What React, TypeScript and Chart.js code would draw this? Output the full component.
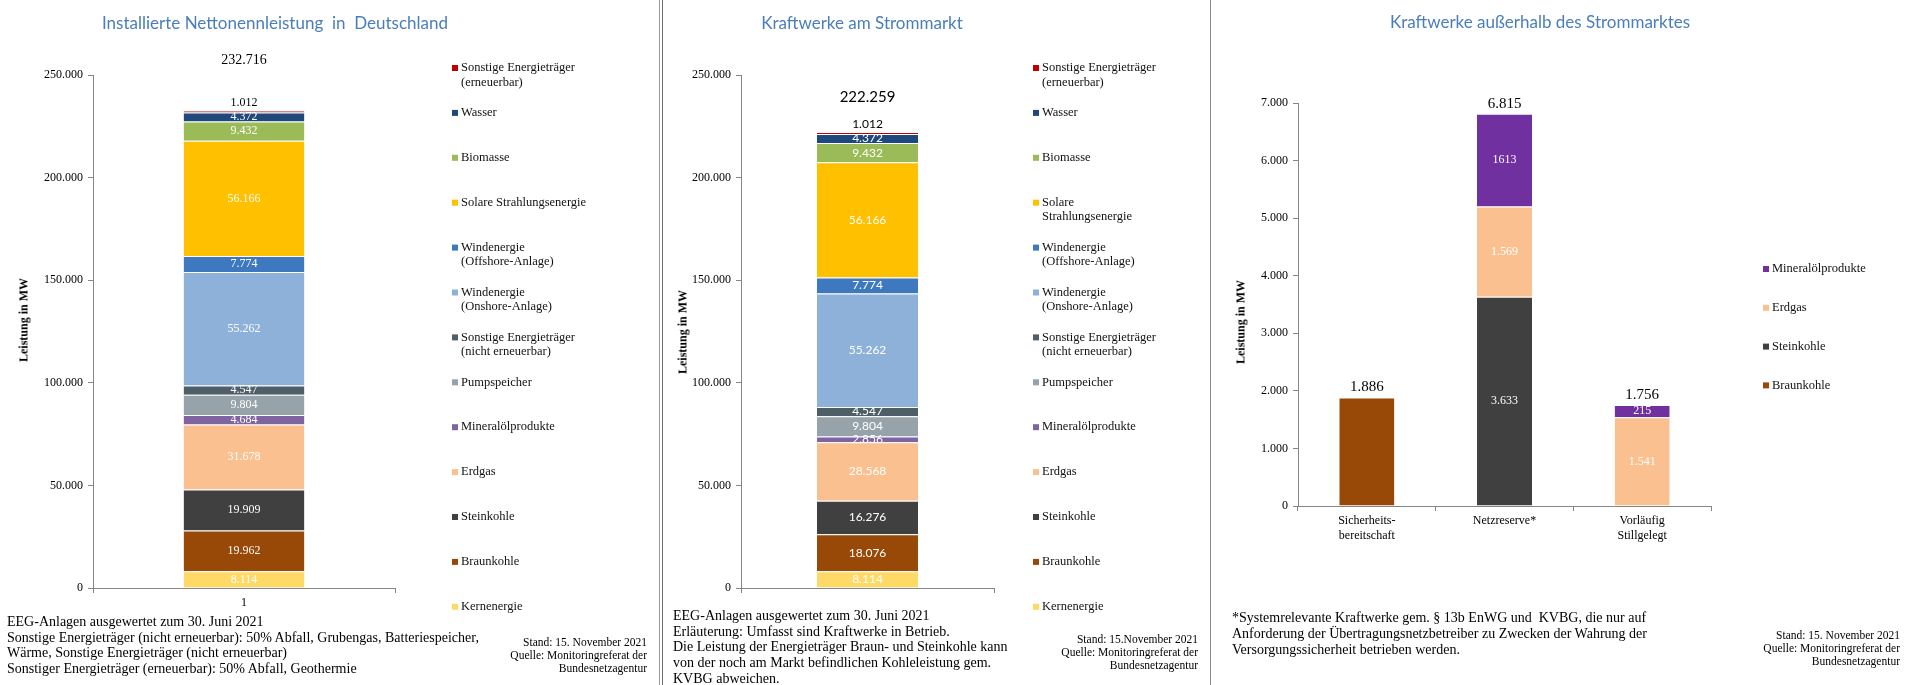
import React, { useEffect, useRef } from "react";
import { Chart, registerables } from "chart.js";

Chart.register(...registerables);

// ---------- data ----------
const panel1Categories = ["1"];
const panel2Categories = ["1"];
// stack order: bottom -> top
const seriesNames1 = [
  "Kernenergie",
  "Braunkohle",
  "Steinkohle",
  "Erdgas",
  "Mineralölprodukte",
  "Pumpspeicher",
  "Sonstige Energieträger\n(nicht erneuerbar)",
  "Windenergie\n(Onshore-Anlage)",
  "Windenergie\n(Offshore-Anlage)",
  "Solare Strahlungsenergie",
  "Biomasse",
  "Wasser",
  "Sonstige Energieträger\n(erneuerbar)",
];
const seriesNames2 = [
  "Kernenergie",
  "Braunkohle",
  "Steinkohle",
  "Erdgas",
  "Mineralölprodukte",
  "Pumpspeicher",
  "Sonstige Energieträger\n(nicht erneuerbar)",
  "Windenergie\n(Onshore-Anlage)",
  "Windenergie\n(Offshore-Anlage)",
  "Solare\nStrahlungsenergie",
  "Biomasse",
  "Wasser",
  "Sonstige Energieträger\n(erneuerbar)",
];
const installiertValues = [8114, 19962, 19909, 31678, 4684, 9804, 4547, 55262, 7774, 56166, 9432, 4372, 1012];
const strommarktValues = [8114, 18076, 16276, 28568, 2856, 9804, 4547, 55262, 7774, 56166, 9432, 4372, 1012];
const seriesColors = [
  "#ffd966",
  "#984807",
  "#404040",
  "#fac090",
  "#8064a2",
  "#97a3aa",
  "#4f5f68",
  "#8eb1da",
  "#3e79c0",
  "#ffc000",
  "#9bbb59",
  "#1f497d",
  "#c00000",
];

const reserveCategories = [["Sicherheits-", "bereitschaft"], "Netzreserve*", ["Vorläufig", "Stillgelegt"]];
const reserveBraunkohle = [1886, null, null];
const reserveSteinkohle = [null, 3633, null];
const reserveErdgas = [null, 1569, 1541];
const reserveMineraloel = [null, 1613, 215];

const yTicks12 = { max: 250000, step: 50000 };
const yTicks3 = { max: 7000, step: 1000 };

// ---------- helpers ----------
const fmt = (v: number) => String(Math.round(v)).replace(/\B(?=(\d{3})+(?!\d))/g, ".");
const AXIS = "#868686";
const SERIF = "'Liberation Serif', 'Times New Roman', serif";
const SANS = "Lato, 'Open Sans', sans-serif";

const sideLegend = {
  id: "sideLegend",
  afterDraw(chart: any, _a: any, opts: any) {
    if (!opts || !opts.display) return;
    const ctx = chart.ctx;
    const ds = chart.data.datasets;
    ctx.save();
    ctx.font = opts.font;
    ctx.textBaseline = "middle";
    ctx.textAlign = "left";
    const n = ds.length;
    for (let k = 0; k < n; k++) {
      const d = ds[n - 1 - k];
      const y = opts.y0 + k * opts.gap;
      ctx.fillStyle = d.backgroundColor;
      ctx.fillRect(opts.x, y - opts.box / 2, opts.box, opts.box);
      ctx.fillStyle = opts.color;
      String(d.label)
        .split("\n")
        .forEach((line: string, j: number) => ctx.fillText(line, opts.x + opts.textGap, y + j * opts.lineHeight));
    }
    ctx.restore();
  },
};

const barLabels = {
  id: "barLabels",
  afterDatasetsDraw(chart: any, _a: any, opts: any) {
    if (!opts || !opts.display) return;
    const ctx = chart.ctx;
    ctx.save();
    ctx.textAlign = "center";
    ctx.textBaseline = "middle";
    chart.data.datasets.forEach((ds: any, di: number) => {
      const mode = ds.labelMode || "inside";
      if (mode === "none") return;
      const meta = chart.getDatasetMeta(di);
      meta.data.forEach((el: any, i: number) => {
        const v = ds.data[i];
        if (v == null) return;
        const p = el.getProps(["x", "y", "base"], true);
        const text = ds.plainLabel ? String(v) : fmt(v);
        if (mode === "above") {
          ctx.font = opts.aboveFont;
          ctx.fillStyle = "#000";
          ctx.fillText(text, p.x, p.y - opts.aboveOffset);
        } else {
          ctx.font = opts.insideFont;
          ctx.fillStyle = "#ffffff";
          ctx.fillText(text, p.x, (p.y + p.base) / 2);
        }
      });
    });
    const xs = chart.scales.x;
    const ys = chart.scales.y;
    const n = chart.data.labels.length;
    for (let i = 0; i < n; i++) {
      let s = 0;
      chart.data.datasets.forEach((ds: any) => {
        const v = ds.data[i];
        if (v != null) s += v;
      });
      ctx.font = opts.totalFont;
      ctx.fillStyle = "#000";
      ctx.fillText(fmt(s), xs.getPixelForValue(i), ys.getPixelForValue(s) - opts.totalOffset);
    }
    ctx.restore();
  },
};

function makeConfig(p: any) {
  return {
    type: "bar",
    data: { labels: p.labels, datasets: p.datasets },
    options: {
      responsive: false,
      maintainAspectRatio: false,
      animation: false,
      devicePixelRatio: 1,
      layout: { padding: p.padding },
      plugins: {
        legend: { display: false },
        tooltip: { enabled: false },
        title: { display: false },
        sideLegend: p.legend,
        barLabels: p.barLabels,
      },
      scales: {
        x: {
          stacked: true,
          offset: true,
          grid: { display: true, drawOnChartArea: false, drawTicks: true, tickLength: 5, color: AXIS, offset: true },
          border: { display: true, color: AXIS, width: 1 },
          ticks: { display: p.showX, color: "#000", font: { size: 12, family: SERIF }, padding: 3, maxRotation: 0, autoSkip: false },
          afterFit: (s: any) => {
            s.height = p.xHeight;
          },
        },
        y: {
          stacked: true,
          min: 0,
          max: p.yMax,
          ticks: { stepSize: p.yStep, color: "#000", font: { size: 12, family: SERIF }, padding: 5, callback: (v: any) => fmt(Number(v)) },
          grid: { drawOnChartArea: false, drawTicks: true, tickLength: 5, color: AXIS },
          border: { display: true, color: AXIS, width: 1 },
          afterFit: (s: any) => {
            s.width = p.yWidth;
          },
        },
      },
    },
    plugins: [sideLegend, barLabels],
  };
}

const segBorder = { borderColor: "rgba(255,255,255,0.55)", borderWidth: { top: 1, right: 0, bottom: 0, left: 0 }, barPercentage: 0.4, categoryPercentage: 1 };

function stackDatasets(names: string[], values: number[]) {
  return names.map((name, i) => ({
    label: name,
    data: [values[i]],
    backgroundColor: seriesColors[i],
    labelMode: i === names.length - 1 ? "above" : "inside",
    ...segBorder,
  }));
}

// ---------- text ----------
const foot1 = [
  "EEG-Anlagen ausgewertet zum 30. Juni 2021",
  "Sonstige Energieträger (nicht erneuerbar): 50% Abfall, Grubengas, Batteriespeicher,",
  "Wärme, Sonstige Energieträger (nicht erneuerbar)",
  "Sonstiger Energieträger (erneuerbar): 50% Abfall, Geothermie",
];
const foot2 = [
  "EEG-Anlagen ausgewertet zum 30. Juni 2021",
  "Erläuterung: Umfasst sind Kraftwerke in Betrieb.",
  "Die Leistung der Energieträger Braun- und Steinkohle kann",
  "von der noch am Markt befindlichen Kohleleistung gem.",
  "KVBG abweichen.",
];
const foot3 = [
  "*Systemrelevante Kraftwerke gem. § 13b EnWG und  KVBG, die nur auf",
  "Anforderung der Übertragungsnetzbetreiber zu Zwecken der Wahrung der",
  "Versorgungssicherheit betrieben werden.",
];
const stand1 = ["Stand: 15. November 2021", "Quelle: Monitoringreferat der", "Bundesnetzagentur"];
const stand2 = ["Stand: 15.November 2021", "Quelle: Monitoringreferat der", "Bundesnetzagentur"];
const stand3 = ["Stand: 15. November 2021", "Quelle: Monitoringreferat der", "Bundesnetzagentur"];

const titleStyle = (cx: number, cy: number): React.CSSProperties => ({
  position: "absolute",
  left: cx,
  top: cy,
  transform: "translate(-50%, -50%)",
  whiteSpace: "pre",
  fontFamily: SANS,
  fontSize: 17,
  color: "#4a7ebb",
});

const yTitleStyle = (cx: number, cy: number): React.CSSProperties => ({
  position: "absolute",
  left: cx,
  top: cy,
  transform: "translate(-50%, -50%) rotate(-90deg)",
  whiteSpace: "nowrap",
  fontFamily: SERIF,
  fontWeight: "bold",
  fontSize: 12,
  color: "#000",
});

function Foot({ left, top, lines, lh }: { left: number; top: number; lines: string[]; lh: number }) {
  return (
    <div style={{ position: "absolute", left, top, fontFamily: SERIF, fontSize: 14, lineHeight: lh + "px", color: "#000", whiteSpace: "pre" }}>
      {lines.map((l, i) => (
        <div key={i}>{l}</div>
      ))}
    </div>
  );
}

function Stand({ right, top, lines }: { right: number; top: number; lines: string[] }) {
  return (
    <div style={{ position: "absolute", right: 1907 - right, top, fontFamily: SERIF, fontSize: 11.5, lineHeight: "13px", color: "#000", textAlign: "right", whiteSpace: "pre" }}>
      {lines.map((l, i) => (
        <div key={i}>{l}</div>
      ))}
    </div>
  );
}

export default function App() {
  const c1 = useRef<HTMLCanvasElement>(null);
  const c2 = useRef<HTMLCanvasElement>(null);
  const c3 = useRef<HTMLCanvasElement>(null);

  useEffect(() => {
    Chart.defaults.font.family = SERIF;
    Chart.defaults.color = "#000";
    const legendBase = { display: true, font: `12.5px ${SERIF}`, color: "#111", box: 6, textGap: 9, lineHeight: 14.5 };

    const ch1 = new Chart(
      c1.current as any,
      makeConfig({
        labels: panel1Categories,
        datasets: stackDatasets(seriesNames1, installiertValues),
        yMax: yTicks12.max,
        yStep: yTicks12.step,
        yWidth: 93,
        xHeight: 30,
        showX: true,
        padding: { left: 0, top: 75, right: 659 - 395, bottom: 685 - 588 - 30 },
        legend: { ...legendBase, x: 452, y0: 68, gap: 44.9 },
        barLabels: { display: true, insideFont: `12px ${SERIF}`, aboveFont: `12px ${SERIF}`, aboveOffset: 8, totalFont: `14px ${SERIF}`, totalOffset: 50 },
      }) as any
    );

    const ch2 = new Chart(
      c2.current as any,
      makeConfig({
        labels: panel2Categories,
        datasets: stackDatasets(seriesNames2, strommarktValues),
        yMax: yTicks12.max,
        yStep: yTicks12.step,
        yWidth: 78,
        xHeight: 30,
        showX: false,
        padding: { left: 0, top: 75, right: 547 - 331, bottom: 685 - 588 - 30 },
        legend: { ...legendBase, x: 370, y0: 68, gap: 44.9 },
        barLabels: { display: true, insideFont: `12px ${SANS}`, aboveFont: `12px ${SANS}`, aboveOffset: 8, totalFont: `15px ${SANS}`, totalOffset: 35 },
      }) as any
    );

    const reserveDatasets = [
      { label: "Braunkohle", data: reserveBraunkohle, backgroundColor: "#984807", labelMode: "none", ...segBorder },
      { label: "Steinkohle", data: reserveSteinkohle, backgroundColor: "#404040", ...segBorder },
      { label: "Erdgas", data: reserveErdgas, backgroundColor: "#fac090", ...segBorder },
      { label: "Mineralölprodukte", data: reserveMineraloel, backgroundColor: "#7030a0", plainLabel: true, ...segBorder },
    ];
    const ch3 = new Chart(
      c3.current as any,
      makeConfig({
        labels: reserveCategories,
        datasets: reserveDatasets,
        yMax: yTicks3.max,
        yStep: yTicks3.step,
        yWidth: 86,
        xHeight: 40,
        showX: true,
        padding: { left: 0, top: 103, right: 695 - 499, bottom: 685 - 506 - 40 },
        legend: { ...legendBase, x: 551, y0: 269, gap: 38.8 },
        barLabels: { display: true, insideFont: `12px ${SERIF}`, aboveFont: `12px ${SERIF}`, aboveOffset: 8, totalFont: `15px ${SERIF}`, totalOffset: 10 },
      }) as any
    );

    return () => {
      ch1.destroy();
      ch2.destroy();
      ch3.destroy();
    };
  }, []);

  return (
    <div style={{ position: "absolute", left: 0, top: 0, width: 1907, height: 685, background: "#fff", overflow: "hidden" }}>
      <canvas ref={c1} width={659} height={685} style={{ position: "absolute", left: 0, top: 0 }} />
      <canvas ref={c2} width={547} height={685} style={{ position: "absolute", left: 663, top: 0 }} />
      <canvas ref={c3} width={695} height={685} style={{ position: "absolute", left: 1212, top: 0 }} />

      <div style={{ position: "absolute", left: 659, top: 0, width: 1, height: 685, background: "#9a9a9a" }} />
      <div style={{ position: "absolute", left: 662, top: 0, width: 1, height: 685, background: "#6f6f6f" }} />
      <div style={{ position: "absolute", left: 1210, top: 0, width: 1, height: 685, background: "#8a8a8a" }} />

      <div style={titleStyle(275, 22)}>Installierte Nettonennleistung  in  Deutschland</div>
      <div style={titleStyle(862, 22)}>Kraftwerke am Strommarkt</div>
      <div style={titleStyle(1540, 21)}>Kraftwerke außerhalb des Strommarktes</div>

      <div style={yTitleStyle(24, 320)}>Leistung in MW</div>
      <div style={yTitleStyle(683, 332)}>Leistung in MW</div>
      <div style={yTitleStyle(1241, 322)}>Leistung in MW</div>

      <Foot left={7} top={614} lines={foot1} lh={15.7} />
      <Foot left={673} top={608} lines={foot2} lh={15.7} />
      <Foot left={1232} top={610} lines={foot3} lh={16} />

      <Stand right={647} top={636} lines={stand1} />
      <Stand right={1198} top={633} lines={stand2} />
      <Stand right={1900} top={629} lines={stand3} />
    </div>
  );
}
